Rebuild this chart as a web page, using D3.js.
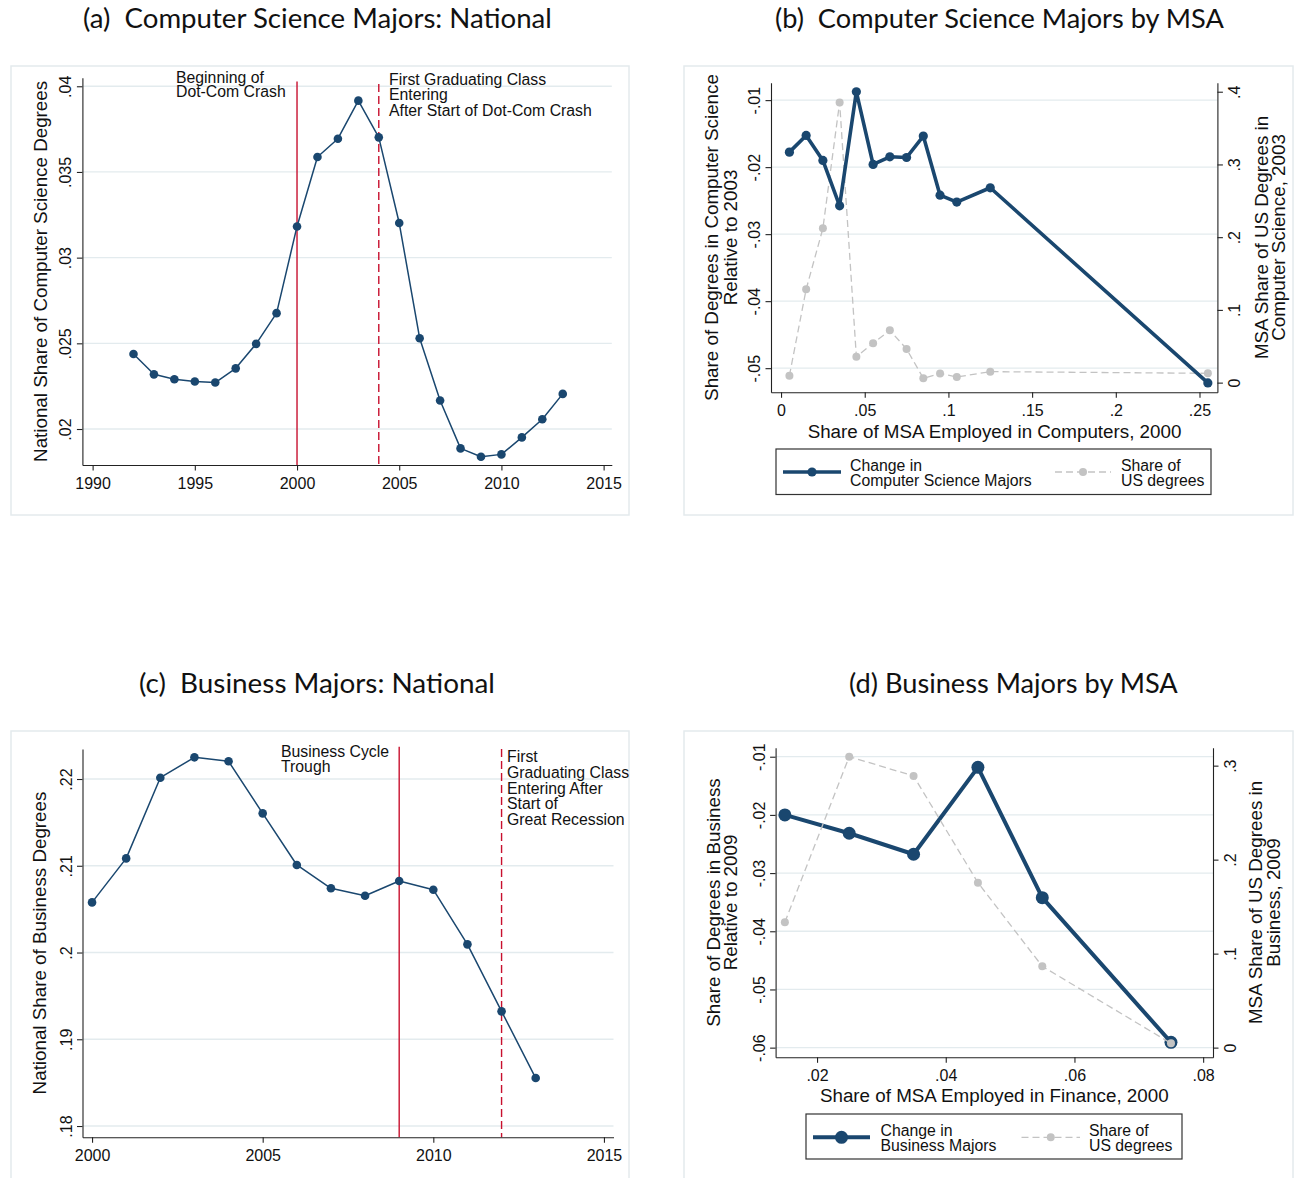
<!DOCTYPE html>
<html><head><meta charset="utf-8">
<script src="https://cdn.jsdelivr.net/npm/d3@7"></script>
<style>body{margin:0;background:#fff}</style>
</head><body>
<svg id="c" width="1303" height="1178"></svg>
<script>
// ---------------- DATA ----------------
const csYears = [1992,1993,1994,1995,1996,1997,1998,1999,2000,2001,2002,2003,2004,2005,2006,2007,2008,2009,2010,2011,2012,2013];
const csShare = [.02438,.02319,.0229,.02277,.02271,.02354,.02497,.02676,.03182,.03587,.03694,.03916,.03702,.03202,.0253,.02166,.01887,.01838,.01852,.01951,.02057,.02205];

const busYears = [2000,2001,2002,2003,2004,2005,2006,2007,2008,2009,2010,2011,2012,2013];
const busShare = [.20578,.21085,.22015,.2225,.22204,.21604,.21009,.2074,.20655,.20824,.20724,.20094,.19322,.18553];

const compEmp = [.005,.015,.025,.035,.045,.055,.065,.075,.085,.095,.105,.125,.255];
const compChange = [-.01776,-.01527,-.0190,-.02577,-.00876,-.0196,-.01846,-.01856,-.01537,-.02418,-.02522,-.02308,-.0522];
const compUSShare = [.0096,.1283,.2121,.3853,.0357,.0541,.0719,.0463,.006,.0124,.0078,.0151,.0128];

const finEmp = [.015,.025,.035,.045,.055,.075];
const finChange = [-.02,-.02315,-.02676,-.01183,-.03422,-.05908];
const finUSShare = [.1333,.3096,.289,.1755,.0865,.0046];

// tick values and labels
const aXTicks = [1990,1995,2000,2005,2010,2015];
const aYTicks = [.02,.025,.03,.035,.04];
const aYLabels = [".02",".025",".03",".035",".04"];
const bXTicks = [0,.05,.1,.15,.2,.25];
const bXLabels = ["0",".05",".1",".15",".2",".25"];
const bYLTicks = [-.05,-.04,-.03,-.02,-.01];
const bYLLabels = ["-.05","-.04","-.03","-.02","-.01"];
const bYRTicks = [0,.1,.2,.3,.4];
const bYRLabels = ["0",".1",".2",".3",".4"];
const cXTicks = [2000,2005,2010,2015];
const cYTicks = [.18,.19,.2,.21,.22];
const cYLabels = [".18",".19",".2",".21",".22"];
const dXTicks = [.02,.04,.06,.08];
const dXLabels = [".02",".04",".06",".08"];
const dYLTicks = [-.06,-.05,-.04,-.03,-.02,-.01];
const dYLLabels = ["-.06","-.05","-.04","-.03","-.02","-.01"];
const dYRTicks = [0,.1,.2,.3];
const dYRLabels = ["0",".1",".2",".3"];

// events
const aEvents = [2000, 2004];
const cEvents = [2009, 2012];

// ---------------- STYLE ----------------
const svg = d3.select("#c");
const NAVY = "#1a476f", RED = "#c8102e", GRAY = "#c3c3c3", GRID = "#e3ebee", FRAME = "#e4eaed", INK = "#111";
const SANS = "'Liberation Sans', Arial, sans-serif";
const TITLEF = "Lato, 'Open Sans', sans-serif";
const TICK = 16, NOTE = 15.8, ATITLE = 18.8;

function frame(x, y, w, h) {
  svg.append("rect").attr("x", x).attr("y", y).attr("width", w).attr("height", h)
    .attr("fill", "none").attr("stroke", FRAME).attr("stroke-width", 1.5);
}
function title(txt, x, y, targetW) {
  const t = svg.append("text").attr("x", x).attr("y", y).attr("font-family", TITLEF)
    .attr("font-size", 24).attr("fill", INK).style("white-space", "pre").text(txt);
  const w = t.node().getComputedTextLength();
  if (w > 0) t.attr("font-size", 24 * targetW / w);
}
function styleAxis(g) {
  g.attr("font-family", SANS).attr("font-size", TICK);
  g.selectAll("path.domain").attr("stroke", "#222").attr("stroke-width", 1.1);
  g.selectAll(".tick line").attr("stroke", "#222").attr("stroke-width", 1.1);
  g.selectAll(".tick text").attr("fill", INK);
}
function xAxis(x, yPos, ticks, labels) {
  const g = svg.append("g").attr("transform", `translate(0,${yPos})`)
    .call(d3.axisBottom(x).tickValues(ticks).tickFormat((d, i) => labels ? labels[i] : d).tickSize(5.5).tickSizeOuter(0));
  styleAxis(g);
  g.selectAll(".tick text").attr("y", 12.5);
}
function yAxisL(y, xPos, ticks, labels) {
  const g = svg.append("g").attr("transform", `translate(${xPos},0)`)
    .call(d3.axisLeft(y).tickValues(ticks).tickFormat((d, i) => labels[i]).tickSize(5.5).tickSizeOuter(0));
  styleAxis(g);
  g.selectAll(".tick text").attr("transform", "rotate(-90)").attr("x", 0).attr("y", -11)
    .attr("dy", 0).attr("text-anchor", "middle");
}
function yAxisR(y, xPos, ticks, labels) {
  const g = svg.append("g").attr("transform", `translate(${xPos},0)`)
    .call(d3.axisRight(y).tickValues(ticks).tickFormat((d, i) => labels[i]).tickSize(5.5).tickSizeOuter(0));
  styleAxis(g);
  g.selectAll(".tick text").attr("transform", "rotate(-90)").attr("x", 0).attr("y", 23)
    .attr("dy", 0).attr("text-anchor", "middle");
}
function grid(y, ticks, x0, x1) {
  svg.append("g").selectAll("line").data(ticks).join("line")
    .attr("x1", x0).attr("x2", x1).attr("y1", d => y(d)).attr("y2", d => y(d))
    .attr("stroke", GRID).attr("stroke-width", 1.3);
}
function vTitle(lines, xs, cy, size) {
  lines.forEach((t, i) => {
    svg.append("text").attr("transform", `translate(${xs[i]},${cy}) rotate(-90)`)
      .attr("text-anchor", "middle").attr("font-family", SANS).attr("font-size", size)
      .attr("fill", INK).text(t);
  });
}
function hTitle(t, cx, y, size) {
  svg.append("text").attr("x", cx).attr("y", y).attr("text-anchor", "middle")
    .attr("font-family", SANS).attr("font-size", size).attr("fill", INK).text(t);
}
function note(lines, x, y0, lh) {
  lines.forEach((t, i) => {
    svg.append("text").attr("x", x).attr("y", y0 + i * lh).attr("font-family", SANS)
      .attr("font-size", NOTE).attr("fill", INK).text(t);
  });
}
function series(x, y, xs, ys, opt) {
  const pts = xs.map((d, i) => [d, ys[i]]);
  const line = d3.line().x(d => x(d[0])).y(d => y(d[1]));
  svg.append("path").datum(pts).attr("d", line).attr("fill", "none")
    .attr("stroke", opt.color).attr("stroke-width", opt.width)
    .attr("stroke-dasharray", opt.dash || null).attr("stroke-linejoin", "round");
  svg.append("g").selectAll("circle").data(pts).join("circle")
    .attr("cx", d => x(d[0])).attr("cy", d => y(d[1])).attr("r", opt.r)
    .attr("fill", opt.color);
}
function legend(box, items) {
  svg.append("rect").attr("x", box.x).attr("y", box.y).attr("width", box.w).attr("height", box.h)
    .attr("fill", "#fff").attr("stroke", "#333").attr("stroke-width", 1.2);
  items.forEach(it => {
    svg.append("line").attr("x1", it.x0).attr("x2", it.x1).attr("y1", it.ly).attr("y2", it.ly)
      .attr("stroke", it.color).attr("stroke-width", it.width).attr("stroke-dasharray", it.dash || null);
    svg.append("circle").attr("cx", (it.x0 + it.x1) / 2).attr("cy", it.ly).attr("r", it.r).attr("fill", it.color);
    it.text.forEach((t, i) => {
      svg.append("text").attr("x", it.tx).attr("y", it.ty + i * 15).attr("font-family", SANS)
        .attr("font-size", NOTE).attr("fill", INK).text(t);
    });
  });
}

// ---------------- PANEL A ----------------
frame(11, 66, 618, 449);
title("(a)  Computer Science Majors: National", 83, 28, 469);
{
  const x = d3.scaleLinear().domain([1989.5, 2015.4]).range([82.4, 611.8]);
  const y = d3.scaleLinear().domain([.0179, .0405]).range([465, 77.7]);
  grid(y, aYTicks, 82.4, 611.8);
  aEvents.forEach((yr, i) => {
    svg.append("line").attr("x1", x(yr)).attr("x2", x(yr)).attr("y1", i ? 84 : 81.5).attr("y2", 465)
      .attr("stroke", RED).attr("stroke-width", 1.4).attr("stroke-dasharray", i ? "8,4" : null);
  });
  series(x, y, csYears, csShare, {color: NAVY, width: 1.5, r: 4.3});
  xAxis(x, 465, aXTicks, null);
  yAxisL(y, 82.4, aYTicks, aYLabels);
  vTitle(["National Share of Computer Science Degrees"], [46.5], 271.4, ATITLE);
  note(["Beginning of", "Dot-Com Crash"], 176, 82.5, 14.5);
  note(["First Graduating Class", "Entering", "After Start of Dot-Com Crash"], 389, 85, 15.3);
}

// ---------------- PANEL B ----------------
frame(684, 66, 609, 449);
title("(b)  Computer Science Majors by MSA", 775, 28, 449);
{
  const x = d3.scaleLinear().domain([-.006, .2607]).range([771, 1217.4]);
  const yL = d3.scaleLinear().domain([-.0536, -.0074]).range([392.3, 82.7]);
  const yR = d3.scaleLinear().domain([-.0133, .4124]).range([392.3, 82.7]);
  grid(yL, bYLTicks, 771, 1217.4);
  series(x, yR, compEmp, compUSShare, {color: GRAY, width: 1.3, r: 4, dash: "7,4"});
  series(x, yL, compEmp, compChange, {color: NAVY, width: 3.6, r: 4.6});
  xAxis(x, 392.3, bXTicks, bXLabels);
  yAxisL(yL, 771, bYLTicks, bYLLabels);
  yAxisR(yR, 1217.4, bYRTicks, bYRLabels);
  vTitle(["Share of Degrees in Computer Science", "Relative to 2003"], [718.4, 736.6], 237.5, ATITLE);
  vTitle(["MSA Share of US Degrees in", "Computer Science, 2003"], [1267.6, 1285.4], 237.5, ATITLE);
  hTitle("Share of MSA Employed in Computers, 2000", 994.5, 437.5, ATITLE);
  legend({x: 776, y: 449, w: 435, h: 45.5}, [
    {x0: 783, x1: 841, ly: 472, color: NAVY, width: 3.6, r: 4.6, tx: 850, ty: 470.5, text: ["Change in", "Computer Science Majors"]},
    {x0: 1055, x1: 1111, ly: 472, color: GRAY, width: 1.3, r: 4, dash: "7,4", tx: 1121, ty: 470.5, text: ["Share of", "US degrees"]}
  ]);
}

// ---------------- PANEL C ----------------
frame(11, 731, 618, 452);
title("(c)  Business Majors: National", 139, 693, 356);
{
  const x = d3.scaleLinear().domain([1999.72, 2015.28]).range([82.5, 613.5]);
  const y = d3.scaleLinear().domain([.1787, .22346]).range([1137.3, 749]);
  grid(y, cYTicks, 82.5, 613.5);
  cEvents.forEach((yr, i) => {
    svg.append("line").attr("x1", x(yr)).attr("x2", x(yr)).attr("y1", i ? 749 : 746.7).attr("y2", 1137.3)
      .attr("stroke", RED).attr("stroke-width", 1.4).attr("stroke-dasharray", i ? "8,4" : null);
  });
  series(x, y, busYears, busShare, {color: NAVY, width: 1.5, r: 4.3});
  xAxis(x, 1137.3, cXTicks, null);
  yAxisL(y, 82.5, cYTicks, cYLabels);
  vTitle(["National Share of Business Degrees"], [46], 943, ATITLE);
  note(["Business Cycle", "Trough"], 281, 757, 15);
  note(["First", "Graduating Class", "Entering After", "Start of", "Great Recession"], 507, 762, 15.8);
}

// ---------------- PANEL D ----------------
frame(684, 731, 609, 452);
title("(d) Business Majors by MSA", 849, 693, 329);
{
  const x = d3.scaleLinear().domain([.01356, .08153]).range([775.6, 1213]);
  const yL = d3.scaleLinear().domain([-.06166, -.00845]).range([1057.3, 747.7]);
  const yR = d3.scaleLinear().domain([-.0103, .3191]).range([1057.3, 747.7]);
  grid(yL, dYLTicks, 775.6, 1213);
  series(x, yL, finEmp, finChange, {color: NAVY, width: 4, r: 6.5});
  series(x, yR, finEmp, finUSShare, {color: GRAY, width: 1.3, r: 4, dash: "7,4"});
  xAxis(x, 1057.3, dXTicks, dXLabels);
  yAxisL(yL, 775.6, dYLTicks, dYLLabels);
  yAxisR(yR, 1213, dYRTicks, dYRLabels);
  vTitle(["Share of Degrees in Business", "Relative to 2009"], [719.5, 737.2], 902.5, ATITLE);
  vTitle(["MSA Share of US Degrees in", "Business, 2009"], [1261.5, 1279.5], 902.5, ATITLE);
  hTitle("Share of MSA Employed in Finance, 2000", 994.3, 1101.5, ATITLE);
  legend({x: 806, y: 1114, w: 376, h: 45}, [
    {x0: 813, x1: 870, ly: 1137.3, color: NAVY, width: 4, r: 6.5, tx: 880.5, ty: 1135.5, text: ["Change in", "Business Majors"]},
    {x0: 1021.5, x1: 1080, ly: 1137.3, color: GRAY, width: 1.3, r: 4, dash: "7,4", tx: 1089, ty: 1135.5, text: ["Share of", "US degrees"]}
  ]);
}
</script>
</body></html>
